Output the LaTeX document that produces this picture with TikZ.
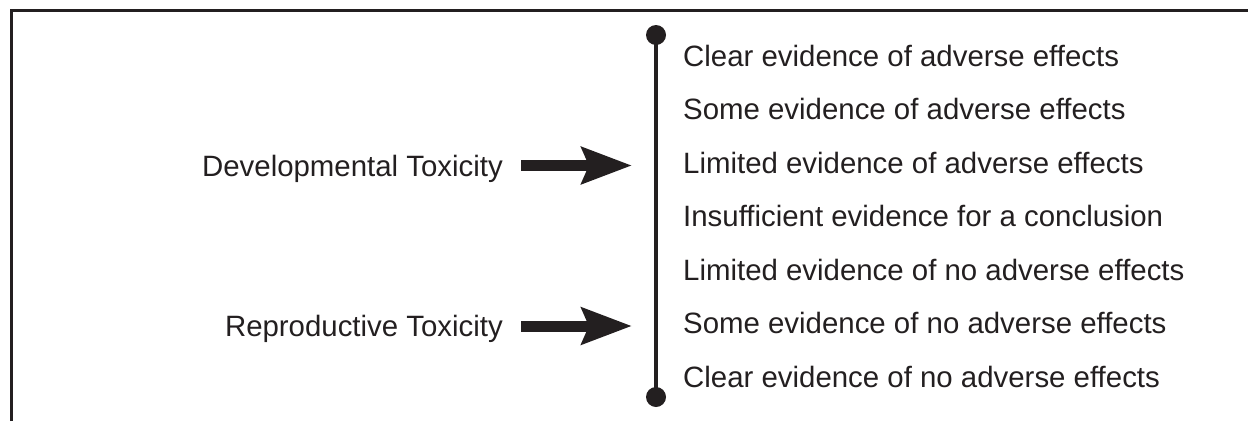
\documentclass[tikz,border=0pt]{standalone}
\usepackage{fontspec}
\setmainfont{Liberation Sans}
\usepackage{tikz}
\usetikzlibrary{arrows.meta,calc,positioning}
\definecolor{encre}{HTML}{231F20}

\begin{document}
\begin{tikzpicture}[
		x=1pt, y=-1pt,
		level/.style={anchor=base west, inner sep=0pt, text=encre, font=\fontsize{29.4}{34}\selectfont},
		tox/.style={anchor=base east, inner sep=0pt, text=encre, font=\fontsize{29.4}{34}\selectfont},
		push/.style={draw=encre, line width=11pt, -{Stealth[length=50pt, width=36pt, inset=7pt]}}, % grosse fleche
		]
		\useasboundingbox (0,0) rectangle (1248,421);
		
		% Le cadre
		\draw[encre, line width=3pt] (11,421) -- (11,10) -- (1248,10);
		
		% L'echelle
		\coordinate (haut) at (656,35);
		\coordinate (bas) at (656,397);
		\draw[encre, line width=4.5pt] (haut) -- (bas);
		\fill[encre] (haut) circle (10);
		\fill[encre] (bas) circle (10);
		
		% Les niveaux
		\foreach \t [count=\i] in {Clear evidence of adverse effects,
			Some evidence of adverse effects,
			Limited evidence of adverse effects,
			Insufficient evidence for a conclusion,
			Limited evidence of no adverse effects,
			Some evidence of no adverse effects,
			Clear evidence of no adverse effects}
		\node[level] (n\i) at (683, {66+53.5*(\i-1)}) {\t};
		
		% Les toxicites
		\node[tox] (dev) at (503,176) {Developmental Toxicity};
		\node[tox] (rep) at (503,336.5) {Reproductive Toxicity};
		\coordinate (devtip) at (632,165.5);
		\coordinate (reptip) at (632,326);
		\draw[push] ([shift={(18,-10.5)}]dev.base east) -- (devtip);
		\draw[push] ([shift={(18,-10.5)}]rep.base east) -- (reptip);
	\end{tikzpicture}
\end{document}
